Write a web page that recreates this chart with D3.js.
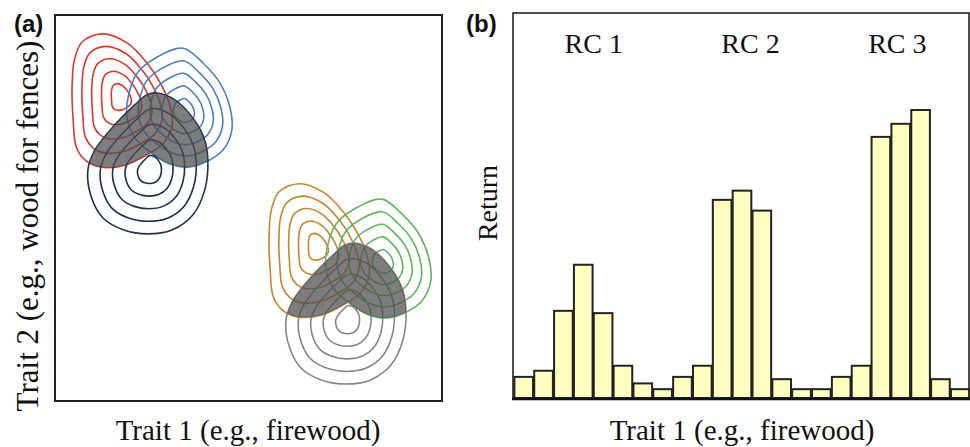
<!DOCTYPE html>
<html>
<head>
<meta charset="utf-8">
<script src="https://cdn.jsdelivr.net/npm/d3@7"></script>
<style>
  body { margin: 0; background: #fff; }
  text { fill: #111; }
</style>
</head>
<body>
<svg id="chart" width="970" height="447"></svg>
<script>
// ---- panel (a) data: outer contour of each density shape, as offsets from its centre (trait units 0-100)
var shapeA = [[-4.9,16.1],[1.6,13.7],[6.7,8.5],[10.1,3.4],[12.7,-2.8],[13.2,-7.5],[10.9,-12.2],[7.0,-15.0],
              [1.0,-17.9],[-5.4,-18.4],[-9.3,-16.6],[-11.6,-13.2],[-12.4,-6.2],[-12.7,1.6],[-12.1,9.3],[-10.1,14.0]];
var shapeB = [[-0.5,16.3],[4.7,12.4],[9.0,7.3],[11.6,1.0],[12.1,-4.9],[9.8,-10.1],[5.7,-13.0],[0.8,-14.5],
              [-4.4,-13.5],[-9.0,-10.6],[-12.9,-7.0],[-15.0,-1.8],[-14.7,3.6],[-12.4,9.8],[-7.2,14.0]];
var shapeC = [[1.8,20.2],[6.5,18.4],[11.1,13.7],[14.0,8.5],[15.0,2.8],[14.2,-4.9],[11.1,-11.4],[5.7,-15.3],
              [-0.5,-16.3],[-6.7,-15.3],[-12.1,-12.2],[-15.2,-6.5],[-16.0,0.3],[-14.2,5.4],[-9.8,11.1],[-3.9,17.1],[-0.8,19.7]];

// centres of the six densities (two clusters of three)
var densityCentres = [[17.1,79.0],[33.6,75.1],[24.5,59.6],[68.0,40.2],[85.0,36.0],[75.7,20.7]];
var densityShapes = ['A','B','C','A','B','C'];
var contourLevels = [1,2,3,4,5];

// ---- panel (b) data
var returns = [5.5,7.1,22.7,34.7,22.1,8.4,3.8,2.3,5.5,8.4,51.6,54.0,48.8,4.9,2.3,2.3,5.5,8.4,68.0,71.4,75.0,4.9,2.3];
var rcLabels = ['RC 1','RC 2','RC 3'];
var rcIndex = [3.5, 11.4, 18.8];

var serif = '"Liberation Serif", "Times New Roman", Times, serif';
var sans = '"Liberation Sans", Arial, sans-serif';

var svg = d3.select('#chart');
var shapes = {A: shapeA, B: shapeB, C: shapeC};
var colours = ['#e0352c','#4d7fbf','#1d2f4b','#c8852a','#5db65c','#858585'];

// ****************** panel (a) ***************************
var xa = d3.scaleLinear().domain([0,100]).range([55,442]);
var ya = d3.scaleLinear().domain([0,100]).range([401,15]);

var ring = d3.line()
	.x(function (d) { return xa(d[0]); })
	.y(function (d) { return ya(d[1]); })
	.curve(d3.curveCatmullRomClosed.alpha(0.5));

function ringPoints(g, level) {
	var c = densityCentres[g];
	return shapes[densityShapes[g]].map(function (p) {
		return [c[0] + p[0] * level / 5, c[1] + p[1] * level / 5];
	});
}

var pa = svg.append('g');

densityCentres.forEach(function (c, g) {
	pa.selectAll('path.r' + g)
		.data(contourLevels)
		.enter().append('path')
		.attr('class', 'r' + g)
		.attr('d', function (k) { return ring(ringPoints(g, k)); })
		.attr('fill', 'none')
		.attr('stroke', colours[g])
		.attr('stroke-width', 1.6);
});

// overlap: third density clipped by union of the two upper densities
[0, 3].forEach(function (g0, ci) {
	var clip = svg.append('clipPath').attr('id', 'ov' + ci);
	clip.append('path').attr('d', ring(ringPoints(g0, 5)));
	clip.append('path').attr('d', ring(ringPoints(g0 + 1, 5)));
	pa.append('path')
		.attr('d', ring(ringPoints(g0 + 2, 5)))
		.attr('clip-path', 'url(#ov' + ci + ')')
		.attr('fill', '#4f4f4f')
		.attr('fill-opacity', 0.74);
});

pa.append('rect')
	.attr('x', 55).attr('y', 15).attr('width', 387).attr('height', 386)
	.attr('fill', 'none').attr('stroke', '#222').attr('stroke-width', 2);

svg.append('text').attr('x', 14).attr('y', 32)
	.attr('font-family', sans).attr('font-weight', 'bold')
	.style('font-size', '24px').text('(a)');

svg.append('text').attr('x', 248).attr('y', 440).attr('text-anchor', 'middle')
	.attr('font-family', serif)
	.style('font-size', '29px').text('Trait 1 (e.g., firewood)');

svg.append('text').attr('transform', 'translate(38,226) rotate(-90)').attr('text-anchor', 'middle')
	.attr('font-family', serif)
	.style('font-size', '31px').text('Trait 2 (e.g., wood for fences)');

// ****************** panel (b) ***************************
var xb = d3.scaleBand().domain(d3.range(returns.length)).range([514, 970]).paddingInner(0.06).paddingOuter(0.02);
var yb = d3.scaleLinear().domain([0,100]).range([398, 14]);

var pb = svg.append('g');

pb.selectAll('rect.bar')
	.data(returns)
	.enter().append('rect')
	.attr('class', 'bar')
	.attr('x', function (d, i) { return xb(i); })
	.attr('width', xb.bandwidth())
	.attr('y', function (d) { return yb(d); })
	.attr('height', function (d) { return yb(0) - yb(d); })
	.attr('fill', '#ffffc0')
	.attr('stroke', '#222')
	.attr('stroke-width', 2);

pb.append('rect')
	.attr('x', 513).attr('y', 13).attr('width', 456).attr('height', 386)
	.attr('fill', 'none').attr('stroke', '#222').attr('stroke-width', 1.6);

pb.append('line').attr('x1', 512).attr('x2', 970).attr('y1', 399).attr('y2', 399)
	.attr('stroke', '#111').attr('stroke-width', 2.5);

pb.selectAll('text.rc')
	.data(rcLabels)
	.enter().append('text')
	.attr('class', 'rc')
	.attr('x', function (d, i) { return xb(0) + (rcIndex[i] + 0.5) * xb.step(); })
	.attr('y', 53)
	.attr('text-anchor', 'middle')
	.attr('font-family', serif)
	.style('font-size', '28px')
	.text(function (d) { return d; });

svg.append('text').attr('x', 466).attr('y', 32)
	.attr('font-family', sans).attr('font-weight', 'bold')
	.style('font-size', '24px').text('(b)');

svg.append('text').attr('x', 742).attr('y', 440).attr('text-anchor', 'middle')
	.attr('font-family', serif)
	.style('font-size', '29px').text('Trait 1 (e.g., firewood)');

svg.append('text').attr('transform', 'translate(497,203) rotate(-90)').attr('text-anchor', 'middle')
	.attr('font-family', serif)
	.style('font-size', '28px').text('Return');
</script>
</body>
</html>
